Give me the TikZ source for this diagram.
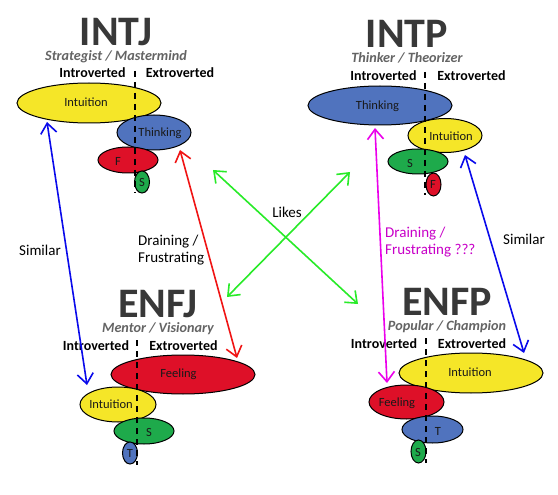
\documentclass[tikz,border=0pt]{standalone}
\usepackage{fontspec}
\setmainfont{Carlito}
\usetikzlibrary{arrows.meta,calc,shapes.geometric}
\definecolor{cyel}{RGB}{245,230,40}
\definecolor{cblu}{RGB}{80,115,190}
\definecolor{cred}{RGB}{222,16,40}
\definecolor{cgrn}{RGB}{30,170,75}
\definecolor{ttl}{RGB}{56,56,56}
\definecolor{subc}{RGB}{100,100,100}
\definecolor{aBlue}{RGB}{10,10,235}
\definecolor{aRed}{RGB}{240,20,20}
\definecolor{aGreen}{RGB}{40,235,40}
\definecolor{aMag}{RGB}{235,0,235}
\definecolor{intext}{RGB}{25,25,25}
\begin{document}
\begin{tikzpicture}[x=1pt,y=-1pt,
  fe/.style args={#1/#2}{ellipse,draw=black,line width=1pt,inner sep=0pt,outer sep=0pt,minimum width=#1pt,minimum height=#2pt},
  inlab/.style={inner sep=0pt,text=intext,font=\fontsize{12.5}{12.5}\selectfont},
  ttlab/.style={inner sep=0pt,text=ttl,font=\fontsize{42}{42}\selectfont\bfseries,text height=27pt,text depth=0pt},
  sublab/.style={inner sep=0pt,text=subc,font=\fontsize{14.2}{15}\selectfont\bfseries\itshape,text height=10pt,text depth=3pt},
  ielab/.style={inner sep=0pt,text=black,font=\fontsize{14}{14}\selectfont\bfseries,text height=10pt,text depth=0pt},
  txlab/.style={inner sep=0pt,font=\fontsize{15}{17}\selectfont,align=left},
  divline/.style={black,line width=1.2pt,dash pattern=on 6pt off 5pt},
  arr/.style={line width=1.6pt,{Straight Barb[length=10pt,width=16pt]}-{Straight Barb[length=10pt,width=16pt]}}]
\fill[white] (0,0) rectangle (558,495);
\useasboundingbox (0,0) rectangle (558,495);

% ---------- INTJ ----------
\node[ttlab] (intjTitle) at (116,32) {INTJ};
\node[sublab] (intjSub) at (116,57) {Strategist / Mastermind};
\node[ielab] (intjI) at (92.5,73) {Introverted};
\node[ielab] (intjE) at (180,73) {Extroverted};
\node[fe={144/40},fill=cyel] (intjN) at (89,103) {};
\node[fe={74/35},fill=cblu] (intjT) at (154,132.5) {};
\node[fe={60/26},fill=cred] (intjF) at (128,160) {};
\node[fe={15/22},fill=cgrn] (intjS) at (142,182) {};
\coordinate (intjD1) at (135,71);
\coordinate (intjD2) at (135,193);
\draw[divline] (intjD1) -- (intjD2);
\node[inlab] (intjNl) at (86,102) {Intuition};
\node[inlab] (intjTl) at (160,133) {Thinking};
\node[inlab] (intjFl) at (118,161) {F};
\node[inlab] (intjSl) at (142,182) {S};

% ---------- INTP ----------
\node[ttlab] (intpTitle) at (407,34) {INTP};
\node[sublab] (intpSub) at (407,59) {Thinker / Theorizer};
\node[ielab] (intpI) at (383.5,76) {Introverted};
\node[ielab] (intpE) at (471.5,76) {Extroverted};
\node[fe={144/39},fill=cblu] (intpT) at (380,105.5) {};
\node[fe={74/34},fill=cyel] (intpN) at (445,135.5) {};
\node[fe={60/25},fill=cgrn] (intpS) at (418,161.5) {};
\node[fe={15/23},fill=cred] (intpF) at (433.5,184.5) {};
\coordinate (intpD1) at (425,72);
\coordinate (intpD2) at (425,195);
\draw[divline] (intpD1) -- (intpD2);
\node[inlab] (intpTl) at (377.5,106) {Thinking};
\node[inlab] (intpNl) at (451,136) {Intuition};
\node[inlab] (intpSl) at (410,163) {S};
\node[inlab] (intpFl) at (433,184) {F};

% ---------- ENFJ ----------
\node[ttlab] (enfjTitle) at (158,304) {ENFJ};
\node[sublab] (enfjSub) at (158,329) {Mentor / Visionary};
\node[ielab] (enfjI) at (96,345) {Introverted};
\node[ielab] (enfjE) at (183.5,345) {Extroverted};
\node[fe={144/39},fill=cred] (enfjF) at (183,374.5) {};
\node[fe={76/35},fill=cyel] (enfjN) at (118,404.5) {};
\node[fe={60/26},fill=cgrn] (enfjS) at (144,431) {};
\node[fe={15/22},fill=cblu] (enfjT) at (130,453) {};
\coordinate (enfjD1) at (137,340);
\coordinate (enfjD2) at (137,465);
\draw[divline] (enfjD1) -- (enfjD2);
\node[inlab] (enfjFl) at (178.5,374) {Feeling};
\node[inlab] (enfjNl) at (111,404) {Intuition};
\node[inlab] (enfjSl) at (149,432) {S};
\node[inlab] (enfjTl) at (130,453) {T};

% ---------- ENFP ----------
\node[ttlab] (enfpTitle) at (447,302) {ENFP};
\node[sublab] (enfpSub) at (447,327) {Popular / Champion};
\node[ielab] (enfpI) at (384,343) {Introverted};
\node[ielab] (enfpE) at (472,343) {Extroverted};
\node[fe={144/40},fill=cyel] (enfpN) at (471,373) {};
\node[fe={75/34},fill=cred] (enfpF) at (406.5,402) {};
\node[fe={61/27},fill=cblu] (enfpT) at (432.5,429.5) {};
\node[fe={15/23},fill=cgrn] (enfpS) at (418.5,451.5) {};
\coordinate (enfpD1) at (426,338);
\coordinate (enfpD2) at (426,463);
\draw[divline] (enfpD1) -- (enfpD2);
\node[inlab] (enfpNl) at (470,372) {Intuition};
\node[inlab] (enfpFl) at (397,403) {Feeling};
\node[inlab] (enfpTl) at (438,431) {T};
\node[inlab] (enfpSl) at (418,452) {S};

% ---------- connectors ----------
\draw[arr,aBlue] ($(intjN)+(-42,19)$) -- ($(enfjN)+(-31,-19.5)$);
\draw[arr,aRed] ($(intjT)+(26,17.5)$) -- ($(enfjF)+(54,-16.5)$);
\draw[arr,aMag] ($(intpT)+(-5,22.5)$) -- ($(enfpF)+(-19.5,-19)$);
\draw[arr,aBlue] ($(intpN)+(20,19.5)$) -- ($(enfpN)+(53,-20)$);
\coordinate (g1a) at (213,170);
\coordinate (g1b) at (358,304);
\coordinate (g2a) at (350,172);
\coordinate (g2b) at (227,297);
\draw[arr,aGreen] (g1a) -- (g1b);
\draw[arr,aGreen] (g2a) -- (g2b);

% ---------- labels ----------
\node[txlab] (simL) at (40,250) {Similar};
\node[txlab] (simR) at (524,239) {Similar};
\node[txlab] (likes) at (287,212) {Likes};
\node[txlab,anchor=west] (drain) at (138,250.5) {Draining /\\Frustrating};
\node[txlab,anchor=west,text=aMag!85!black] (drainM) at (385,242) {Draining /\\Frustrating ???};
\end{tikzpicture}
\end{document}
